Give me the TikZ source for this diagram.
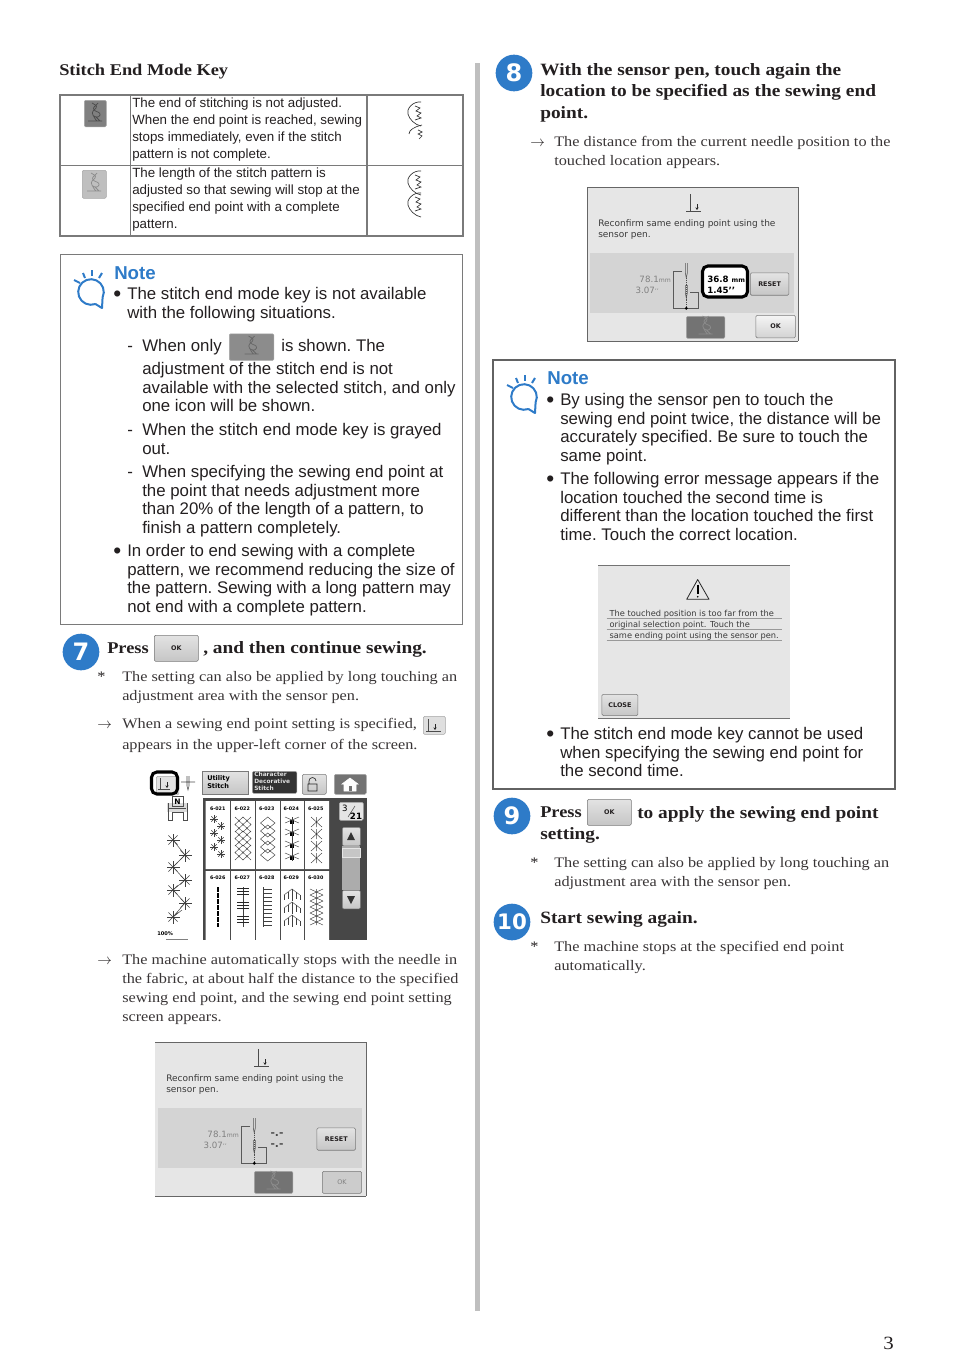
\documentclass[tikz,border=0pt]{standalone}
\usepackage{fontspec}
\setmainfont{Liberation Sans}
\newfontfamily\bookfont[FakeStretch=1.12]{Liberation Serif}
\newfontfamily\scrfont{DejaVu Sans}
\usetikzlibrary{arrows.meta}
\definecolor{ink}{HTML}{231F20}
\definecolor{noteblue}{HTML}{2E7BC8}
\definecolor{rulegray}{HTML}{7A7A7A}
\definecolor{panelgray}{HTML}{E6E6E6}
\definecolor{bandgray}{HTML}{D4D4D4}
\definecolor{scrtext}{HTML}{3A3A3A}
\tikzset{
  bodytext/.style={anchor=north west,inner sep=0pt,align=left,text=ink,font=\frenchspacing\fontsize{12.62}{14}\selectfont},
  tabletext/.style={anchor=north west,inner sep=0pt,align=left,text=ink,font=\fontsize{10}{12.7}\selectfont},
  booktext/.style={anchor=north west,inner sep=0pt,align=left,text=ink!90,font=\bookfont\fontsize{10.9}{14.2}\selectfont},
  headtext/.style={anchor=north west,inner sep=0pt,align=left,text=ink,font=\bookfont\bfseries\fontsize{12.95}{16.1}\selectfont},
  shorthead/.style={anchor=base west,inner sep=0pt,text=ink,font=\bookfont\bfseries\fontsize{12.3}{16}\selectfont},
  marktext/.style={anchor=base west,inner sep=0pt,text=ink,font=\frenchspacing\fontsize{12.62}{14}\selectfont},
  dottext/.style={anchor=base west,inner sep=0pt,text=ink,font=\fontsize{17}{17}\selectfont},
  arrowtext/.style={anchor=base west,inner sep=0pt,text=ink,font=\fontsize{10.9}{14}\selectfont},
  startext/.style={anchor=base west,inner sep=0pt,text=ink,font=\bookfont\fontsize{10.9}{14}\selectfont},
  notetitle/.style={anchor=base west,inner sep=0pt,text=noteblue,font=\bfseries\fontsize{14}{16}\selectfont},
  stepnum/.style={circle,fill=noteblue,inner sep=0pt,text=white,minimum size=27.5pt,font=\scrfont\bfseries\fontsize{18}{18}\selectfont},
  box/.style={draw=rulegray,line width=0.8pt},
  okbtn/.style={draw=rulegray,rounded corners=1pt,top color=gray!22,bottom color=gray!45,inner sep=0pt,anchor=north west,font=\scrfont\bfseries\fontsize{4.8}{5}\selectfont,text=ink},
  keybtn/.style={draw=gray!70,rounded corners=1pt,inner sep=0pt,anchor=north west},
  scrline/.style={anchor=base west,inner sep=0pt,text=scrtext,align=left,font=\scrfont\fontsize{6.2}{8.2}\selectfont},
  stitchln/.style={draw=black!75,line width=0.35pt},
  pics/bulb/.style={code={
    \draw[noteblue,line width=1.5pt,line join=round] (70:12.8) arc[start angle=70,end angle=385,radius=12.8] -- (11,16) -- (4.4,12);
    \foreach \a/\b/\c/\d in {-17/-12/-11/-9,-8/-19/-6/-14,1/-22/1/-16,11/-19/8/-14}
      {\draw[noteblue,line width=1.5pt] (\a,\b) -- (\c,\d);}
  }},
  pics/keyglyph/.style={code={
    \draw[#1,line width=0.55pt] (-3,-10) .. controls (-1,-8) and (3,-8) .. (1,-5) .. controls (-1,-3) and (-4,-1) .. (-2,2) .. controls (0,6) and (1,7) .. (2,8) (3,-10) .. controls (1,-7) and (-3,-6) .. (-1,-3) .. controls (1,-1) and (6,-1) .. (5,2) .. controls (4,5) and (0,4) .. (-1,3) (1,4) -- (5,8) (-7,8) -- (7,8);
  }},
  pics/scallop/.style={code={
    \draw[black!80,line width=0.5pt] (6,-12) .. controls (-2,-13) and (-9,-5) .. (-7,0) .. controls (-6,5) and (0,11) .. (6,12);
    \draw[black!80,line width=0.5pt] (0,-8) -- (5,-6) -- (1,-3) -- (6,-1) -- (2,2) -- (6,4) -- (0,6);
  }},
  pics/starmark/.style={code={
    \foreach \a in {0,45,90,135}{\draw[stitchln] (\a:#1) -- (\a+180:#1);}
  }},
  pics/confirmscreen/.style={code={
    \fill[panelgray] (0,0) rectangle (211,154);
    \draw[black!60,line width=0.5pt] (0,0) -- (211,0) (0,154) -- (211,154) (211,0) -- (211,154);
    \fill[bandgray] (3,66) rectangle (207,126);
    \draw[black!70,line width=0.5pt] (103,7) -- (103,24) (99,24) -- (114,24);
    \draw[black!85,line width=0.6pt,-{Stealth[length=2pt,width=2.5pt]}] (110,17) -- (110,23);
    \node[scrline,font=\scrfont\fontsize{6.75}{8.2}\selectfont,name=-msg] at (11,39) {Reconfirm same ending point using the};
    \node[scrline,font=\scrfont\fontsize{6.75}{8.2}\selectfont,name=-msgb] at (11,50) {sensor pen.};
    \node[scrline,anchor=base east,text=gray,font=\scrfont\fontsize{6.5}{8}\selectfont,name=-mm] at (84,95) {78.1{\fontsize{4.6}{5}\selectfont mm}};
    \node[scrline,anchor=base east,text=gray,font=\scrfont\fontsize{6.5}{8}\selectfont,name=-inch] at (72,106) {3.07{\fontsize{4.6}{5}\selectfont ’’}};
    \draw[black!65,line width=0.5pt] (95,84.7) -- (86.7,84.7) -- (86.7,121.3) -- (111.7,121.3) -- (111.7,105.7) -- (103,105.7);
    \draw[black!65,line width=0.45pt] (98.3,76) -- (98.3,86) -- (99.3,91) -- (100.3,86) -- (100.3,76) (98.3,98) -- (98.3,106) -- (99.3,111) -- (100.3,106) -- (100.3,98);
    \draw[black!70,line width=0.4pt,densely dotted] (99.3,91) -- (99.3,121);
    \fill[black] (99.3,121.3) circle (1.6);
    \node[keybtn,fill=black!55,minimum width=29pt,minimum height=16.5pt,name=-key] at (99,129) {};
    \pic at (118.5,139) {keyglyph=black!45};
  }}
}
\begin{document}
\begin{tikzpicture}[x=0.75pt,y=-0.75pt]
\useasboundingbox (0,0) rectangle (954,1370);
\node[shorthead] (keytitle) at (59,75) {Stitch End Mode Key};
% key table
\draw[rulegray,line width=1.2pt] (60,95) rectangle (463,236);
\draw[rulegray,line width=0.7pt] (60,165.5) -- (463,165.5);
\draw[rulegray,line width=1pt] (130.5,95) -- (130.5,236) (367,95) -- (367,236);
\node[keybtn,fill=black!50,minimum width=16.5pt,minimum height=20pt] (keyA) at (84,100) {};
\pic at (95,113) {keyglyph=black!70};
\node[keybtn,fill=gray!50,minimum width=18pt,minimum height=21pt] (keyB) at (82,170) {};
\pic at (94,183) {keyglyph=gray!90};
\node[tabletext] (rowA) at (132,98) {The end of stitching is not adjusted.\\When the end point is reached, sewing\\stops immediately, even if the stitch\\pattern is not complete.};
\node[tabletext] (rowB) at (132,168) {The length of the stitch pattern is\\adjusted so that sewing will stop at the\\specified end point with a complete\\pattern.};
\pic at (415,114) {scallop};
\draw[black!80,line width=0.5pt] (409,134) .. controls (409,130) and (414,127) .. (422,125) (418,130) -- (422,132) -- (418,134) -- (422,136) -- (419,139);
\pic at (415,183) {scallop};
\pic at (415,205) {scallop};
% first note
\draw[box] (60.5,254.5) rectangle (462.5,624.5);
\pic at (91,292) {bulb};
\node[notetitle] (noteA) at (114,279) {Note};
\node[dottext] (dotA) at (113,301) {•};
\node[bodytext] (noteAa) at (127,287) {The stitch end mode key is not available\\with the following situations.};
\node[marktext] (dashA) at (127,351) {-};
\node[marktext] (onlyA) at (142,351) {When only};
\node[keybtn,fill=black!45,minimum width=33.5pt,minimum height=20pt] (keyC) at (229,333.5) {};
\pic at (251.5,346) {keyglyph=black!60};
\node[marktext] (onlyB) at (281,351) {is shown. The};
\node[bodytext] (onlyC) at (142,362) {adjustment of the stitch end is not\\available with the selected stitch, and only\\one icon will be shown.};
\node[marktext] (dashB) at (127,435) {-};
\node[bodytext] (grayA) at (142,423) {When the stitch end mode key is grayed\\out.};
\node[marktext] (dashC) at (127,477) {-};
\node[bodytext] (specA) at (142,465) {When specifying the sewing end point at\\the point that needs adjustment more\\than 20\% of the length of a pattern, to\\finish a pattern completely.};
\node[dottext] (dotB) at (113,558) {•};
\node[bodytext] (endA) at (127,544) {In order to end sewing with a complete\\pattern, we recommend reducing the size of\\the pattern. Sewing with a long pattern may\\not end with a complete pattern.};
% step 7
\node[stepnum] (stepG) at (81,652) {7};
\node[shorthead] (pressG) at (107,653) {Press};
\node[okbtn,minimum width=33pt,minimum height=19.5pt] (okG) at (154,635) {OK};
\node[headtext,anchor=base west] (contG) at (203,653) {, and then continue sewing.};
\node[startext] (starG) at (97,681) {*};
\node[booktext] (longG) at (122,671) {The setting can also be applied by long touching an\\adjustment area with the sensor pen.};
\node[arrowtext] (arrG) at (97,728) {$\rightarrow$};
\node[booktext] (whenG) at (122,718) {When a sewing end point setting is specified,};
\node[keybtn,fill=gray!25,minimum width=16.5pt,minimum height=13.5pt] (endkey) at (423,716) {};
\draw[black!70,line width=0.4pt] (428,719) -- (428,731) (426,731.5) -- (441,731.5);
\draw[black!85,line width=0.6pt,-{Stealth[length=2pt,width=2.5pt]}] (435,724) -- (435,730);
\node[booktext] (appG) at (122,739) {appears in the upper-left corner of the screen.};
% stitch selection screen
\fill[black!72] (203,798) rectangle (367,940);
\fill[white] (205.7,801) rectangle (329,869) (205.7,871) rectangle (329,940);
\foreach \x in {230,255,280,304}{\draw[black!70,line width=0.5pt] (\x,801) -- (\x,940);}
\foreach \lab [count=\i] in {021,022,023,024,025}
  {\node[scrline,anchor=base,text=black,font=\scrfont\bfseries\fontsize{3.6}{4}\selectfont] (top\i) at (193.2+24.5*\i,810) {6-\lab};}
\foreach \lab [count=\i] in {026,027,028,029,030}
  {\node[scrline,anchor=base,text=black,font=\scrfont\bfseries\fontsize{3.6}{4}\selectfont] (low\i) at (193.2+24.5*\i,879) {6-\lab};}
% top row of patterns
\foreach \px/\py in {214/819,221/826,214/833,221/840,214/847,221/854}{\pic at (\px,\py) {starmark=3.8};}
\foreach \y in {817,831,845}{\draw[stitchln] (235,\y) -- (251,\y+15) (251,\y) -- (235,\y+15) (243,\y) -- (251,\y+7.5) -- (243,\y+15) -- (235,\y+7.5) -- cycle;}
\foreach \y in {817,825,833,841,849}{\draw[stitchln] (267.7,\y) -- (275,\y+6) -- (267.7,\y+12) -- (260.5,\y+6) -- cycle;}
\foreach \y in {820,832,844,856}{\fill[black] (290,\y) rectangle (294,\y+4);}
\foreach \y in {817,829,841,853}{\draw[stitchln] (285,\y) -- (299,\y+6) (299,\y) -- (285,\y+6);}
\draw[stitchln] (292,817) -- (292,861);
\foreach \y in {817,829,841,853}{\draw[stitchln] (311,\y) -- (322,\y+10) (322,\y) -- (311,\y+10) (316.7,\y) -- (316.7,\y+10);}
% bottom row of patterns
\draw[black,line width=1pt,dash pattern=on 4pt off 0.5pt] (218,887) -- (218,927);
\draw[stitchln] (243,887) -- (243,927);
\foreach \y in {888,891,894,902,905,908,916,919,922}{\draw[black!85,line width=0.5pt] (237,\y) -- (249,\y);}
\draw[stitchln] (263,887) -- (263,927);
\foreach \y in {889,893,897,901,905,909,913,917,921,925}{\draw[stitchln] (263,\y) -- (272,\y);}
\foreach \y in {889,902,915}{
  \draw[stitchln] (292,\y) -- (292,\y+12) (288,\y+3) -- (288,\y+10) (296,\y+3) -- (296,\y+10) (284,\y+6) -- (284,\y+11) (300,\y+6) -- (300,\y+11);
  \draw[stitchln] (284,\y+6) -- (292,\y) -- (300,\y+6);}
\foreach \y in {889,895,901,907,913,919}{\draw[stitchln] (310,\y) -- (323,\y+6) (323,\y) -- (310,\y+6) (316.7,\y) -- (316.7,\y+6);}
% scroll controls
\node[keybtn,fill=gray!20,minimum width=18pt,minimum height=13.5pt] (pagebox) at (339,802) {};
\node[scrline,anchor=base,text=black,font=\scrfont\fontsize{6.5}{7}\selectfont] (pagea) at (345,811) {3};
\draw[black!70,line width=0.4pt] (348,817) -- (355,806);
\node[scrline,anchor=base,text=black,font=\scrfont\bfseries\fontsize{6.5}{7}\selectfont] (pageb) at (356,819) {21};
\node[okbtn,minimum width=13.5pt,minimum height=14pt] (upbtn) at (342,827) {};
\fill[black!80] (351,832) -- (355,840) -- (347,840) -- cycle;
\fill[gray!65] (342,846) rectangle (360,890);
\draw[gray!20,line width=0.4pt,fill=gray!45] (342,848) rectangle (360,857);
\node[okbtn,minimum width=13.5pt,minimum height=14pt] (downbtn) at (342,890) {};
\fill[black!80] (351,904) -- (355,896) -- (347,896) -- cycle;
% top key row
\node[okbtn,minimum width=34.5pt,minimum height=17pt,rounded corners=0pt] (utilkey) at (202,771) {};
\node[scrline,anchor=north west,text=black,font=\scrfont\bfseries\fontsize{4.9}{6}\selectfont] (utiltext) at (207,775) {Utility\\Stitch};
\node[keybtn,fill=black!80,minimum width=33.5pt,minimum height=16.5pt] (charkey) at (252,771) {};
\node[scrline,anchor=north west,text=gray!25,font=\scrfont\bfseries\fontsize{4.4}{5.2}\selectfont] (chartext) at (254,772) {Character\\Decorative\\Stitch};
\node[okbtn,minimum width=18pt,minimum height=15pt] (lockkey) at (302,774) {};
\draw[black!85,line width=0.5pt] (309,784) -- (309,781) arc[start angle=180,end angle=360,radius=3.5] (308,784) rectangle (317,791);
\node[keybtn,fill=black!55,minimum width=24pt,minimum height=15pt] (homekey) at (334,774) {};
\draw[white,fill=white,line width=0.4pt] (342,784) -- (350,778) -- (358,784) -- (356,784) -- (356,791) -- (344,791) -- (344,784) -- cycle;
\fill[black!55] (348.5,786) rectangle (351.5,791);
\node[keybtn,fill=gray!22,minimum width=17pt,minimum height=14pt] (endmode) at (156,776) {};
\draw[black!70,line width=0.4pt] (160,778) -- (160,789) (158,789.5) -- (170,789.5);
\draw[black!85,line width=0.6pt,-{Stealth[length=2pt,width=2.5pt]}] (167,782) -- (167,788);
\draw[black,line width=2.3pt,rounded corners=4pt] (151.5,772) rectangle (177.5,794);
\draw[black!70,line width=0.4pt] (181,782) -- (195,782) (187,776) -- (187,786) -- (188,790) -- (189,786) -- (189,776);
% presser foot and sample
\fill[gray!28] (167,803) rectangle (187,812);
\draw[black!70,line width=0.4pt] (172,796) rectangle (183,806) (168,808) -- (186,808) (168,803) -- (168,820) -- (172,820) -- (172,812) -- (183,812) -- (183,820) -- (187,820) -- (187,803);
\node[scrline,anchor=base,text=black,font=\scrfont\bfseries\fontsize{5.6}{6}\selectfont] (footn) at (177.5,804) {N};
\draw[stitchln] (173,840) -- (185,855) -- (173,867) -- (185,880) -- (173,890) -- (185,903) -- (173,917) -- (182,910);
\foreach \px/\py in {173/840,185/855,173/867,185/880,173/890,185/903,173/917}{\pic at (\px,\py) {starmark=6.5};}
\node[scrline,anchor=base west,text=black,font=\scrfont\bfseries\fontsize{3.8}{4}\selectfont] (zoomlbl) at (157,935) {100\%};
\draw[gray,line width=0.4pt] (166,939.5) -- (188,939.5);
% machine text under screen
\node[arrowtext] (arrH) at (97,964) {$\rightarrow$};
\node[booktext] (stopH) at (122,954) {The machine automatically stops with the needle in\\the fabric, at about half the distance to the specified\\sewing end point, and the sewing end point setting\\screen appears.};
\pic (scrA) at (155,1042) {confirmscreen};
\node[scrline,anchor=base,font=\scrfont\bfseries\fontsize{8}{8}\selectfont,text=black!70] (dashp) at (277,1136) {-.-};
\node[scrline,anchor=base,font=\scrfont\bfseries\fontsize{8}{8}\selectfont,text=black!70] (dashq) at (277,1147) {-.-};
\node[okbtn,minimum width=29pt,minimum height=16.7pt] (resetA) at (316.7,1127.7) {RESET};
\node[okbtn,fill=gray!40,top color=gray!40,bottom color=gray!40,text=gray,font=\scrfont\fontsize{4.8}{5}\selectfont,minimum width=29.5pt,minimum height=16.5pt] (okA) at (322,1171) {OK};
% centre rule
\fill[gray!50] (475,63) rectangle (479.5,1311);
% step 8
\node[stepnum] (stepH) at (514,73) {8};
\node[headtext] (headH) at (540,63) {With the sensor pen, touch again the\\location to be specified as the sewing end\\point.};
\node[arrowtext] (arrI) at (530,146) {$\rightarrow$};
\node[booktext] (distI) at (554,136) {The distance from the current needle position to the\\touched location appears.};
\pic (scrB) at (587,187) {confirmscreen};
\draw[black!60,line width=0.5pt] (587,187) -- (587,342);
\node[okbtn,minimum width=29pt,minimum height=16.7pt] (resetB) at (750,272.7) {RESET};
\draw[black,line width=2.3pt,rounded corners=4pt,fill=white] (702.5,266) rectangle (747.5,297);
\node[scrline,anchor=base west,text=black,font=\scrfont\bfseries\fontsize{6.5}{8}\selectfont] (valA) at (707,282.7) {36.8 {\fontsize{4.8}{5}\selectfont mm}};
\node[scrline,anchor=base west,text=black,font=\scrfont\bfseries\fontsize{6.5}{8}\selectfont] (valB) at (707,293) {1.45’’};
\node[okbtn,minimum width=29.5pt,minimum height=17pt,top color=gray!8,bottom color=gray!35] (okB) at (755.7,315) {OK};
% second note
\draw[rulegray!80!black,line width=1.3pt] (493,360) rectangle (895,789);
\pic at (524,397) {bulb};
\node[notetitle] (noteB) at (547,384) {Note};
\node[dottext] (dotC) at (546,407) {•};
\node[bodytext] (touchB) at (560,393) {By using the sensor pen to touch the\\sewing end point twice, the distance will be\\accurately specified. Be sure to touch the\\same point.};
\node[dottext] (dotD) at (546,486) {•};
\node[bodytext] (errB) at (560,472) {The following error message appears if the\\location touched the second time is\\different than the location touched the first\\time. Touch the correct location.};
% error screen
\fill[panelgray] (598,565) rectangle (790,718.5);
\draw[black!55,line width=0.5pt] (598,565) -- (790,565) (598,718.5) -- (790,718.5);
\draw[black!85,line width=0.6pt,line join=round] (697.7,579.5) -- (709,599.3) -- (686.7,599.3) -- cycle;
\draw[black,line width=1.3pt] (697.7,584.5) -- (697.7,594);
\fill[black] (697.7,596.8) circle (0.9);
\node[scrline] (errA) at (609.3,616) {The touched position is too far from the};
\node[scrline] (errC) at (609.3,627) {original selection point.  Touch the};
\node[scrline] (errD) at (609.3,638) {same ending point using the sensor pen.};
\foreach \y in {618.5,629.5,640}{\draw[gray!80,line width=0.4pt] (606.7,\y) -- (781.7,\y);}
\node[okbtn,minimum width=27pt,minimum height=16pt] (closekey) at (601.7,694) {CLOSE};
\node[dottext] (dotE) at (546,741) {•};
\node[bodytext] (lastB) at (560,727) {The stitch end mode key cannot be used\\when specifying the sewing end point for\\the second time.};
% step 9
\node[stepnum] (stepI) at (512,816) {9};
\node[shorthead] (pressI) at (540,817) {Press};
\node[okbtn,minimum width=33pt,minimum height=19.5pt] (okI) at (587,799) {OK};
\node[headtext] (applyI) at (637,806) {to apply the sewing end point};
\node[headtext] (setI) at (540,827) {setting.};
\node[startext] (starI) at (530,867) {*};
\node[booktext] (longI) at (554,857) {The setting can also be applied by long touching an\\adjustment area with the sensor pen.};
% step 10
\node[stepnum,font=\scrfont\bfseries\fontsize{16}{16}\selectfont] (stepJ) at (512,922) {10};
\node[headtext] (startJ) at (540,911) {Start sewing again.};
\node[startext] (starJ) at (530,951) {*};
\node[booktext] (stopJ) at (554,941) {The machine stops at the specified end point\\automatically.};
\node[anchor=base west,inner sep=0pt,text=ink,font=\bookfont\fontsize{14}{16}\selectfont] (pagenum) at (883,1349) {3};
\end{tikzpicture}
\end{document}
